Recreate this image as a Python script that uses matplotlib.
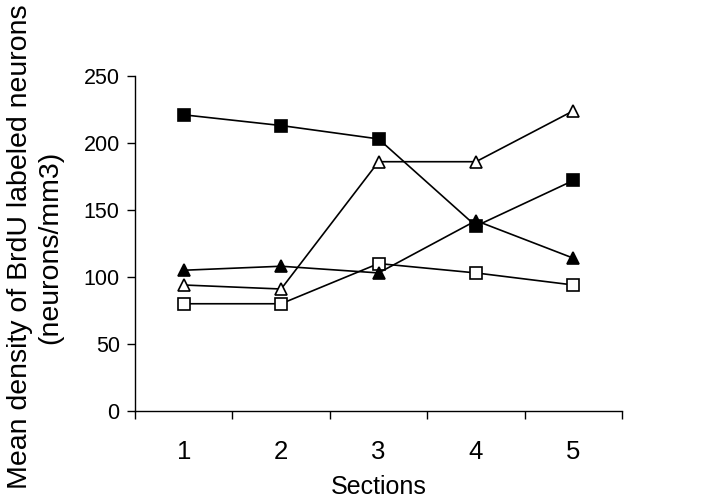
import numpy as np
import matplotlib
matplotlib.use("Agg")
import matplotlib.pyplot as plt

plt.rcParams['font.family'] = ['Liberation Sans', 'DejaVu Sans']

sections = ["1", "2", "3", "4", "5"]
filled_sq = [221, 213, 203, 138, 172]
filled_tri = [105, 108, 103, 142, 114]
open_tri = [94, 91, 186, 186, 224]
open_sq = [80, 80, 110, 103, 94]

fig = plt.figure(figsize=(7.2, 5.03), dpi=100)
ax = fig.add_axes([0.1875, 0.183, 0.6765, 0.666])

x = np.arange(len(sections)) + 0.5
kw = dict(color="black", linewidth=1.2, markersize=8, markeredgewidth=1.2,
          markeredgecolor="black")
ax.plot(x, open_sq, marker="s", markerfacecolor="white", **kw)
ax.plot(x, open_tri, marker="^", markerfacecolor="white", **kw)
ax.plot(x, filled_tri, marker="^", markerfacecolor="black", **kw)
ax.plot(x, filled_sq, marker="s", markerfacecolor="black", **kw)

ax.set_xlim(0, 5)
ax.set_ylim(0, 250)
ax.set_yticks(range(0, 251, 50))
ax.set_xticks(range(0, 6))
ax.set_xticklabels([])
ax.set_xticks(x, minor=True)
ax.set_xticklabels(sections, minor=True, fontsize=18.5)
ax.tick_params(axis="x", which="minor", length=0, pad=21)
ax.tick_params(axis="x", which="major", length=6, width=1)
ax.tick_params(axis="y", length=6, width=1, labelsize=15.5, pad=5)
for s in ["top", "right"]:
    ax.spines[s].set_visible(False)
for s in ["left", "bottom"]:
    ax.spines[s].set_linewidth(1.0)

ax.set_xlabel("Sections", fontsize=18, labelpad=8)
fig.text(0.049, 0.509, "Mean density of BrdU labeled neurons\n(neurons/mm3)",
         rotation=90, ha="center", va="center", fontsize=20.5, multialignment="center",
         linespacing=1.2)

fig.savefig("out.png", dpi=100)
